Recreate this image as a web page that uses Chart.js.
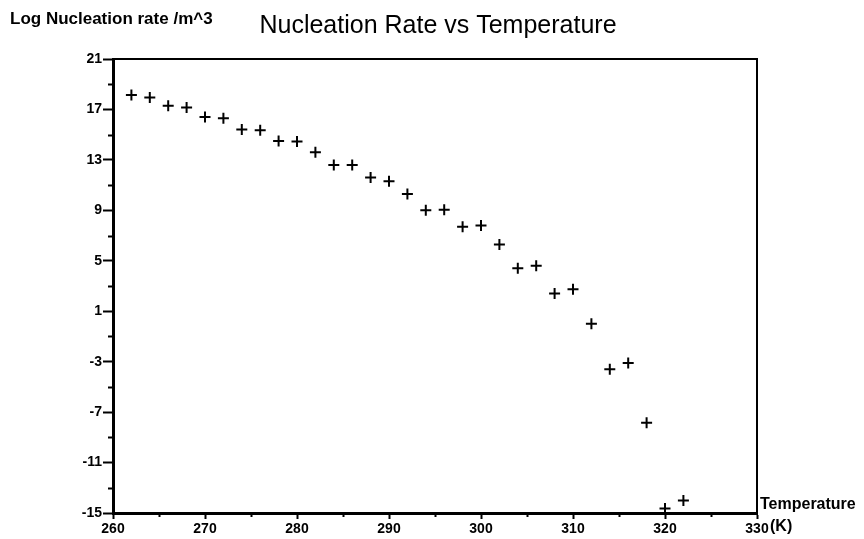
<!DOCTYPE html>
<html>
<head>
<meta charset="utf-8">
<title>Nucleation Rate vs Temperature</title>
<script src="https://cdn.jsdelivr.net/npm/chart.js@4.4.1/dist/chart.umd.min.js"></script>
<style>
  html, body { margin: 0; padding: 0; background: #fff; }
  #wrap { width: 864px; height: 539px; position: relative; }
</style>
</head>
<body>
<div id="wrap"><canvas id="chart"></canvas></div>
<script>
// temperature (K) and log10 nucleation rate (/m^3)
const temperatures = [
  262, 264, 266, 268, 270, 272, 274, 276, 278, 280, 282,
  284, 286, 288, 290, 292, 294, 296, 298, 300, 302, 304,
  306, 308, 310, 312, 314, 316, 318, 320, 322,
];
const logRates = [
  18.15, 17.95, 17.3, 17.15, 16.4, 16.3, 15.4, 15.35, 14.5, 14.45, 13.6,
  12.6, 12.6, 11.6, 11.3, 10.3, 9.0, 9.05, 7.7, 7.8, 6.3, 4.4,
  4.6, 2.4, 2.75, 0.0, -3.6, -3.1, -7.85, -14.65, -14.0,
];

const xTickValues = [260, 270, 280, 290, 300, 310, 320, 330];
const yTickValues = [-15, -11, -7, -3, 1, 5, 9, 13, 17, 21];

const yAxisTitle = "Log Nucleation rate /m^3";
const xAxisTitle = ["Temperature", "(K)"];
const chartTitle = "Nucleation Rate vs Temperature";

const FONT = "'Liberation Sans', Arial, Helvetica, sans-serif";

const midpoints = (vals) => vals.slice(1).map((v, i) => (v + vals[i]) / 2);

// frame, half-step ticks and the free-standing labels
const framePlugin = {
  id: "frame",
  afterDraw(chart) {
    const { ctx, chartArea: area, scales } = chart;
    ctx.save();
    ctx.strokeStyle = "#000";

    ctx.lineWidth = 2;
    ctx.beginPath();
    ctx.moveTo(area.left, area.top);
    ctx.lineTo(area.right, area.top);
    ctx.lineTo(area.right, area.bottom);
    ctx.stroke();

    ctx.beginPath();
    for (const v of midpoints(yTickValues)) {
      const y = Math.round(scales.y.getPixelForValue(v)) + 0.5;
      ctx.moveTo(area.left - 5, y);
      ctx.lineTo(area.left, y);
    }
    for (const v of midpoints(xTickValues)) {
      const x = Math.round(scales.x.getPixelForValue(v)) + 0.5;
      ctx.moveTo(x, area.bottom);
      ctx.lineTo(x, area.bottom + 4);
    }
    ctx.stroke();

    ctx.fillStyle = "#000";
    ctx.textBaseline = "alphabetic";

    ctx.textAlign = "center";
    ctx.font = `25px ${FONT}`;
    ctx.fillText(chartTitle, 438, 33);

    ctx.textAlign = "left";
    ctx.font = `bold 17px ${FONT}`;
    ctx.fillText(yAxisTitle, 10, 24);

    ctx.font = `bold 16px ${FONT}`;
    const tx = area.right + 3;
    ctx.fillText(xAxisTitle[0], tx, area.bottom - 4);
    ctx.fillText(xAxisTitle[1], tx + 10, area.bottom + 18);
    ctx.restore();
  },
};

new Chart(document.getElementById("chart"), {
  type: "scatter",
  data: {
    datasets: [
      {
        data: temperatures.map((t, i) => ({ x: t, y: logRates[i] })),
        pointStyle: "cross",
        pointRadius: 5.5,
        pointHoverRadius: 5.5,
        borderColor: "#000",
        backgroundColor: "#000",
        borderWidth: 2,
      },
    ],
  },
  options: {
    responsive: true,
    maintainAspectRatio: false,
    animation: false,
    layout: { padding: { left: 0, right: 107, top: 59, bottom: 0 } },
    plugins: {
      legend: { display: false },
      tooltip: { enabled: false },
      title: { display: false },
    },
    scales: {
      x: {
        type: "linear",
        min: 260,
        max: 330,
        afterBuildTicks: (s) => { s.ticks = xTickValues.map((v) => ({ value: v })); },
        afterFit: (s) => { s.height = 26; },
        ticks: {
          color: "#000",
          font: { family: FONT, size: 14, weight: "bold" },
          padding: 2,
          maxRotation: 0,
          autoSkip: false,
        },
        grid: {
          drawOnChartArea: false,
          drawTicks: true,
          tickLength: 6,
          tickWidth: 2,
          tickColor: "#000",
        },
        border: { display: true, color: "#000", width: 3 },
      },
      y: {
        type: "linear",
        min: -15,
        max: 21,
        afterBuildTicks: (s) => { s.ticks = yTickValues.map((v) => ({ value: v })); },
        afterFit: (s) => { s.width = 113; },
        ticks: {
          color: "#000",
          font: { family: FONT, size: 14, weight: "bold" },
          padding: 1,
          autoSkip: false,
        },
        grid: {
          drawOnChartArea: false,
          drawTicks: true,
          tickLength: 10,
          tickWidth: 2,
          tickColor: "#000",
        },
        border: { display: true, color: "#000", width: 3 },
      },
    },
  },
  plugins: [framePlugin],
});
</script>
</body>
</html>
